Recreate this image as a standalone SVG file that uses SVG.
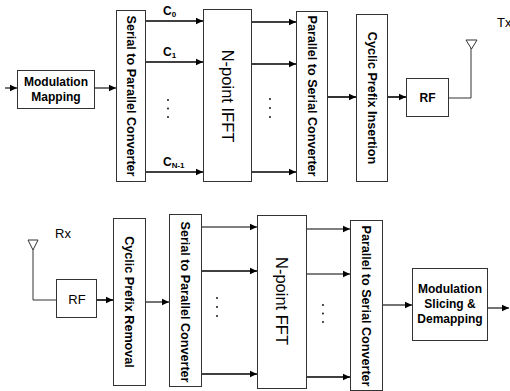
<svg xmlns="http://www.w3.org/2000/svg" width="510" height="391" viewBox="0 0 510 391">
<defs>
<marker id="ah" markerUnits="userSpaceOnUse" markerWidth="8" markerHeight="8" refX="7" refY="4" orient="auto">
<path d="M0,0.8 L7,4 L0,7.2 Z" fill="#000"/>
</marker>
<style>
.box{fill:#fff;stroke:#333;stroke-width:1}
.b{font-family:"Liberation Sans",Arial,sans-serif;font-weight:bold;font-size:12px;fill:#000}
.v{font-family:"Liberation Sans",Arial,sans-serif;font-weight:bold;font-size:12.6px;fill:#000}
.r{font-family:"Liberation Sans",Arial,sans-serif;font-size:16.5px;fill:#000}
.lbl{font-family:"Liberation Sans",Arial,sans-serif;font-size:13px;fill:#000}
.a{stroke:#000;stroke-width:1.6;fill:none;marker-end:url(#ah)}
.at{stroke:#000;stroke-width:1.1;fill:none;marker-end:url(#ah)}
.w{stroke:#333;stroke-width:1;fill:none}
.dot{fill:#000}
</style>
</defs>

<g id="connectors">
<line class="at" x1="5" y1="88" x2="17" y2="88"/>
<line class="at" x1="95" y1="88" x2="116" y2="88"/>
<line class="a" x1="146" y1="21" x2="203" y2="21"/>
<line class="a" x1="146" y1="62" x2="203" y2="62"/>
<line class="a" x1="146" y1="172" x2="203" y2="172"/>
<line class="a" x1="252" y1="22" x2="296" y2="22"/>
<line class="a" x1="252" y1="64" x2="296" y2="64"/>
<line class="a" x1="252" y1="172" x2="296" y2="172"/>
<line class="a" x1="328" y1="97" x2="356" y2="97"/>
<line class="a" x1="388" y1="97" x2="406" y2="97"/>
<polyline class="w" points="449,98 471,98 471,48"/>
<polygon points="466,40 477,40 471.5,49" fill="#fff" stroke="#333" stroke-width="1"/>

<polygon points="28,240 38,240 33,250" fill="#fff" stroke="#333" stroke-width="1"/>
<polyline class="w" points="33,250 33,300 56,300"/>
<line class="a" x1="97" y1="300" x2="113" y2="300"/>
<line class="at" x1="146" y1="302" x2="169" y2="302"/>
<line class="at" x1="202" y1="227" x2="257" y2="227"/>
<line class="a" x1="202" y1="271" x2="257" y2="271"/>
<line class="a" x1="202" y1="374" x2="257" y2="374"/>
<line class="at" x1="307" y1="229" x2="350" y2="229"/>
<line class="at" x1="307" y1="274" x2="350" y2="274"/>
<line class="a" x1="307" y1="377" x2="350" y2="377"/>
<line class="at" x1="383" y1="305" x2="412" y2="305"/>
<line class="at" x1="488" y1="308" x2="509" y2="308"/>
</g>

<g id="mod-mapping">
<rect class="box" x="17.5" y="70.5" width="77" height="38"/>
<text class="b" x="56" y="86" text-anchor="middle">Modulation</text>
<text class="b" x="56" y="101" text-anchor="middle">Mapping</text>
</g>

<g id="sp-tx">
<rect class="box" x="116.5" y="10.5" width="29" height="171"/>
<text class="v" transform="translate(126.5,96) rotate(90)" text-anchor="middle">Serial to Parallel Converter</text>
</g>

<g id="labels-c">
<text class="b" x="163" y="15" font-size="11">C<tspan font-size="8" dy="2">0</tspan></text>
<text class="b" x="163" y="56" font-size="11">C<tspan font-size="8" dy="2">1</tspan></text>
<text class="b" x="163" y="166" font-size="11">C<tspan font-size="8" dy="2">N-1</tspan></text>
<circle class="dot" cx="168" cy="100" r="0.9"/>
<circle class="dot" cx="168" cy="108.5" r="0.9"/>
<circle class="dot" cx="168" cy="117" r="0.9"/>
</g>

<g id="ifft">
<rect class="box" x="203.5" y="9.5" width="48" height="172"/>
<text class="r" transform="translate(221.5,96) rotate(90)" text-anchor="middle">N-point IFFT</text>
<circle class="dot" cx="270" cy="99" r="0.9"/>
<circle class="dot" cx="270" cy="108" r="0.9"/>
<circle class="dot" cx="270" cy="117" r="0.9"/>
</g>

<g id="ps-tx">
<rect class="box" x="296.5" y="11.5" width="31" height="170"/>
<text class="v" transform="translate(307.5,96) rotate(90)" text-anchor="middle">Parallel to Serial Converter</text>
</g>

<g id="cp-insert">
<rect class="box" x="356.5" y="14.5" width="31" height="167"/>
<text class="v" transform="translate(367.5,98) rotate(90)" text-anchor="middle">Cyclic Prefix Insertion</text>
</g>

<g id="rf-tx">
<rect class="box" x="406.5" y="78.5" width="42" height="38"/>
<text class="b" x="427.5" y="102" text-anchor="middle">RF</text>
</g>

<text class="lbl" x="497" y="27">Tx</text>
<text class="lbl" x="55" y="238">Rx</text>

<g id="rf-rx">
<rect class="box" x="56.5" y="279.5" width="40" height="38"/>
<text class="lbl" x="77" y="304" text-anchor="middle">RF</text>
</g>

<g id="cp-remove">
<rect class="box" x="113.5" y="218.5" width="32" height="167"/>
<text class="v" transform="translate(125,302) rotate(90)" text-anchor="middle">Cyclic Prefix Removal</text>
</g>

<g id="sp-rx">
<rect class="box" x="169.5" y="214.5" width="32" height="172"/>
<text class="v" transform="translate(181,302) rotate(90)" text-anchor="middle">Serial to Parallel Converter</text>
<circle class="dot" cx="217" cy="298" r="0.9"/>
<circle class="dot" cx="217" cy="307" r="0.9"/>
<circle class="dot" cx="217" cy="316" r="0.9"/>
</g>

<g id="fft">
<rect class="box" x="257.5" y="215.5" width="49" height="173"/>
<text class="r" transform="translate(276,301) rotate(90)" text-anchor="middle">N-point FFT</text>
<circle class="dot" cx="323" cy="305" r="0.9"/>
<circle class="dot" cx="323" cy="313.5" r="0.9"/>
<circle class="dot" cx="323" cy="322" r="0.9"/>
</g>

<g id="ps-rx">
<rect class="box" x="350.5" y="220.5" width="32" height="170"/>
<text class="v" transform="translate(362,306) rotate(90)" text-anchor="middle">Parallel to Serial Converter</text>
</g>

<g id="mod-slicing">
<rect class="box" x="412.5" y="268.5" width="75" height="72"/>
<text class="b" x="450" y="293" text-anchor="middle">Modulation</text>
<text class="b" x="450" y="308" text-anchor="middle">Slicing &amp;</text>
<text class="b" x="450" y="323" text-anchor="middle">Demapping</text>
</g>
</svg>
